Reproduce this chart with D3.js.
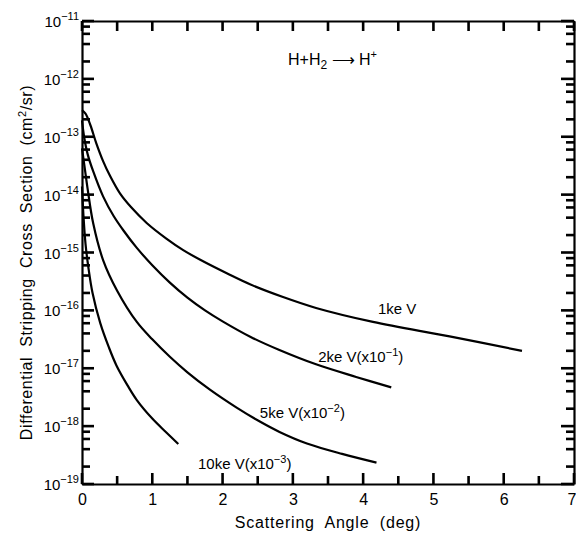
<!DOCTYPE html>
<html>
<head>
<meta charset="utf-8">
<script src="https://cdn.jsdelivr.net/npm/d3@7"></script>
<style>
  body { margin: 0; background: #fff; }
  svg { display: block; font-family: "Liberation Sans", Arial, sans-serif; }
</style>
</head>
<body>
<div id="chart"></div>
<script>
// values: scattering angle (deg) and cross section (cm^2/sr)
const angle1 = [0, 0.05, 0.12, 0.2, 0.3, 0.4, 0.54, 0.7, 0.92, 1.2, 1.44, 1.75, 2.06, 2.39, 2.86, 3.33, 4.14, 5.23, 6.26];
const value1 = [2.88e-13, 2.51e-13, 1.58e-13, 7.94e-14, 3.8e-14, 2.09e-14, 1.05e-14, 6.03e-15, 3.24e-15, 1.74e-15, 1.1e-15, 6.76e-16, 4.37e-16, 2.82e-16, 1.7e-16, 1.1e-16, 6.31e-17, 3.55e-17, 2.0e-17];

const angle2 = [0, 0.03, 0.08, 0.16, 0.3, 0.45, 0.59, 0.78, 1.0, 1.25, 1.5, 1.75, 2.0, 2.4, 2.8, 3.33, 3.9, 4.4];
const value2 = [1.91e-13, 1.0e-13, 5.01e-14, 2.51e-14, 9.33e-15, 4.27e-15, 2.4e-15, 1.2e-15, 6.03e-16, 3.02e-16, 1.66e-16, 1.0e-16, 6.46e-17, 3.47e-17, 2.09e-17, 1.17e-17, 7.08e-18, 4.68e-18];

const angle5 = [0, 0.04, 0.08, 0.16, 0.3, 0.5, 0.78, 1.0, 1.25, 1.5, 1.82, 2.2, 2.53, 2.81, 3.2, 3.7, 4.19];
const value5 = [6.31e-14, 2.82e-14, 1.26e-14, 3.16e-15, 7.41e-16, 2.19e-16, 6.31e-17, 3.16e-17, 1.58e-17, 8.51e-18, 4.27e-18, 2.09e-18, 1.2e-18, 7.94e-19, 5.01e-19, 3.31e-19, 2.34e-19];

const angle10 = [0, 0.02, 0.05, 0.09, 0.15, 0.26, 0.38, 0.49, 0.65, 0.78, 1.0, 1.2, 1.37];
const value10 = [1.38e-14, 4.47e-15, 1.41e-15, 5.62e-16, 2.0e-16, 6.03e-17, 2.34e-17, 1.12e-17, 5.01e-18, 2.82e-18, 1.35e-18, 7.76e-19, 4.9e-19];

const seriesLabels = ["1ke V", "2ke V(x10", "5ke V(x10", "10ke V(x10"];
const seriesPowers = ["", "−1", "−2", "−3"];
const decades = [-19, -18, -17, -16, -15, -14, -13, -12, -11];
const minorMult = [2, 4, 6, 8];
const xTicks = [0, 0.5, 1, 1.5, 2, 2.5, 3, 3.5, 4, 4.5, 5, 5.5, 6, 6.5, 7];

const W = 576, H = 533;
const mLeft = 82, mRight = 574, mTop = 21, mBottom = 484;

const svg = d3.select("#chart").append("svg").attr("width", W).attr("height", H);

const x = d3.scaleLinear().domain([0, 7]).range([mLeft, mRight]);
const y = d3.scaleLog().domain([1e-19, 1e-11]).range([mBottom, mTop]);

// log ticks, majors on each decade
let yTicks = [];
decades.forEach(d => {
	yTicks.push(Math.pow(10, d));
	if (d < -11) minorMult.forEach(m => yTicks.push(m * Math.pow(10, d)));
});
const isMajor = v => Math.abs(Math.log10(v) - Math.round(Math.log10(v))) < 1e-6;

// axes: frame and number labels
const gx = svg.append("g").attr("transform", `translate(0,${mBottom})`)
	.call(d3.axisBottom(x).tickValues(xTicks).tickSizeInner(-10).tickSizeOuter(0).tickPadding(10)
		.tickFormat(d => Number.isInteger(d) ? d : ""));
gx.selectAll(".tick text").attr("font-size", 16).attr("fill", "#000")
	.attr("font-family", "Liberation Sans, Arial, sans-serif")
	.attr("text-anchor", d => d === 7 ? "end" : "middle")
	.attr("dx", d => d === 7 ? 2 : 0);

const gt = svg.append("g").attr("transform", `translate(0,${mTop})`)
	.call(d3.axisTop(x).tickValues(xTicks).tickSizeInner(-10).tickSizeOuter(0).tickFormat(""));
const gy = svg.append("g").attr("transform", `translate(${mLeft},0)`)
	.call(d3.axisLeft(y).tickValues(yTicks).tickSizeInner(-8).tickSizeOuter(0).tickFormat(""));
const gr = svg.append("g").attr("transform", `translate(${mRight},0)`)
	.call(d3.axisRight(y).tickValues(yTicks).tickSizeInner(-8).tickSizeOuter(0).tickFormat(""));

[gx, gt, gy, gr].forEach(g => {
	g.select(".domain").attr("stroke", "#000").attr("stroke-width", 2.2);
	g.selectAll(".tick line").remove();
});

// inward tick marks as small filled bars
const tw = 2.6;
const tk = svg.append("g").attr("fill", "#000");
tk.selectAll(".xb").data(xTicks).join("rect").attr("class", "xb")
	.attr("x", d => x(d) - tw / 2).attr("width", tw)
	.attr("y", d => mBottom - (Number.isInteger(d) ? 11 : 8))
	.attr("height", d => Number.isInteger(d) ? 11 : 8);
tk.selectAll(".xt").data(xTicks).join("rect").attr("class", "xt")
	.attr("x", d => x(d) - tw / 2).attr("width", tw)
	.attr("y", mTop).attr("height", 10);
tk.selectAll(".yl").data(yTicks).join("rect").attr("class", "yl")
	.attr("x", mLeft).attr("y", d => y(d) - tw / 2).attr("height", tw)
	.attr("width", d => isMajor(d) ? 12 : 8);
tk.selectAll(".yr").data(yTicks).join("rect").attr("class", "yr")
	.attr("x", d => mRight - (isMajor(d) ? 13 : 8)).attr("y", d => y(d) - tw / 2).attr("height", tw)
	.attr("width", d => isMajor(d) ? 13 : 8);

// decade labels
const lab = svg.append("g").selectAll("text").data(decades).join("text")
	.attr("x", mLeft - 3)
	.attr("y", d => y(Math.pow(10, d)) + 6)
	.attr("text-anchor", "end")
	.attr("font-size", 15)
	.attr("fill", "#000");
lab.append("tspan").text("10");
lab.append("tspan").attr("dy", -7).attr("font-size", 11).text(d => "−" + (-d));

// curves
const line = d3.line().x(d => x(d[0])).y(d => y(d[1])).curve(d3.curveCatmullRom.alpha(0.5));
const series = [
	d3.zip(angle1, value1),
	d3.zip(angle2, value2),
	d3.zip(angle5, value5),
	d3.zip(angle10, value10)
];
svg.append("g").selectAll("path").data(series).join("path")
	.attr("d", line)
	.attr("fill", "none")
	.attr("stroke", "#000")
	.attr("stroke-width", 2.2);

// curve labels, baseline just above each tail
const labelAt = [[4.21, 8.7e-17], [3.36, 1.3e-17], [2.53, 1.4e-18], [1.65, 1.85e-19]];
const cl = svg.append("g").selectAll("text").data(seriesLabels).join("text")
	.attr("x", (d, i) => x(labelAt[i][0]))
	.attr("y", (d, i) => y(labelAt[i][1]))
	.attr("font-size", 15)
	.attr("fill", "#000");
cl.append("tspan").text(d => d);
cl.append("tspan").attr("dy", -6).attr("font-size", 11).text((d, i) => seriesPowers[i]);
cl.append("tspan").attr("dy", 6).text((d, i) => seriesPowers[i] ? ")" : "");

// reaction label
const rx = svg.append("text").attr("x", 288).attr("y", 65).attr("font-size", 16).attr("fill", "#000");
rx.append("tspan").text("H+H");
rx.append("tspan").attr("dy", 4).attr("font-size", 12).text("2");
rx.append("tspan").attr("dy", -4).text(" ⟶ H");
rx.append("tspan").attr("dy", -7).attr("font-size", 11).text("+");

// axis titles
svg.append("text")
	.attr("x", (mLeft + mRight) / 2).attr("y", 528)
	.attr("text-anchor", "middle").attr("font-size", 16).attr("letter-spacing", 0.8)
	.attr("fill", "#000")
	.attr("xml:space", "preserve")
	.text("Scattering  Angle  (deg)");

const yt = svg.append("text")
	.attr("transform", `translate(32,${(mTop + mBottom) / 2 + 10}) rotate(-90)`)
	.attr("text-anchor", "middle").attr("font-size", 16).attr("letter-spacing", 0.6)
	.attr("fill", "#000")
	.attr("xml:space", "preserve");
yt.append("tspan").text("Differential  Stripping  Cross  Section  (cm");
yt.append("tspan").attr("dy", -6).attr("font-size", 11).text("2");
yt.append("tspan").attr("dy", 6).text("/sr)");
</script>
</body>
</html>
